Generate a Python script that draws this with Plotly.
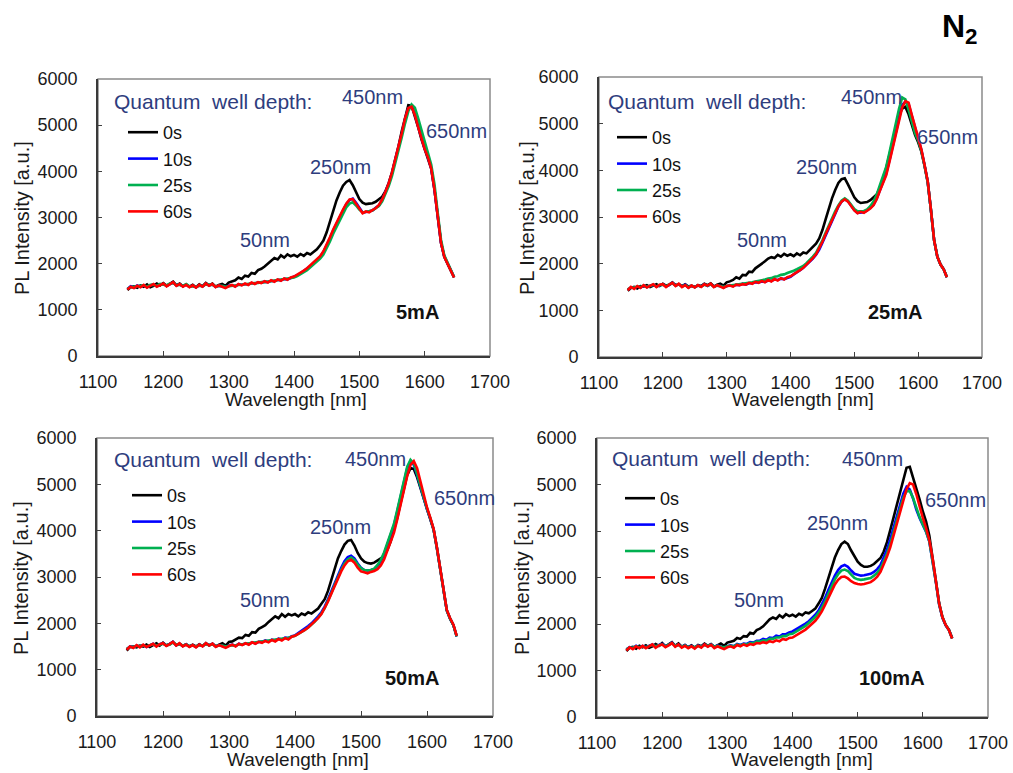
import plotly.graph_objects as go

W, H = 1013, 773
FONT = "Liberation Sans, Arial, sans-serif"
BLUE_TXT = "#2E3D7E"

# ---------------- data ----------------
wavelength = list(range(1145, 1650, 5))  # nm
series_names = ["0s", "10s", "25s", "60s"]
series_colors = ["#000000", "#0000FF", "#00B050", "#FF0000"]
currents = ["5mA", "25mA", "50mA", "100mA"]
peak_labels = ["50nm", "250nm", "450nm", "650nm"]
x_ticks = [1100, 1200, 1300, 1400, 1500, 1600, 1700]
y_ticks = [0, 1000, 2000, 3000, 4000, 5000, 6000]

# ---- 5 mA ----
p1_0s = [1430,1490,1510,1480,1530,1500,1550,1490,1520,1570,1530,
         1580,1520,1560,1610,1530,1570,1510,1550,1500,1540,
         1490,1550,1510,1580,1530,1570,1500,1540,1560,1520,
         1590,1610,1640,1700,1670,1740,1720,1800,1780,1860,
         1890,1940,2000,2070,2120,2090,2180,2130,2200,2160,
         2190,2150,2210,2170,2230,2200,2260,2310,2400,2500,
         2680,2920,3150,3370,3540,3690,3770,3810,3700,3530,
         3400,3320,3290,3300,3310,3340,3400,3450,3570,3750,
         3980,4250,4550,4870,5180,5430,5420,5200,4960,4700,
         4480,4300,4060,3600,3000,2450,2150,2000,1880,1700]
p1_10s = [1450,1510,1480,1530,1500,1530,1490,1530,1550,1510,1550,
          1560,1520,1560,1590,1530,1550,1510,1550,1500,1520,
          1490,1530,1510,1560,1530,1550,1500,1520,1510,1490,
          1520,1530,1510,1550,1540,1560,1550,1580,1570,1590,
          1590,1610,1600,1630,1620,1650,1640,1670,1660,1690,
          1710,1750,1790,1840,1890,1950,2010,2080,2150,2250,
          2390,2550,2720,2870,3010,3150,3290,3380,3410,3320,
          3200,3110,3120,3130,3150,3210,3260,3380,3550,3730,
          3960,4230,4520,4810,5130,5360,5410,5240,4980,4720,
          4490,4310,4070,3610,3010,2460,2160,2010,1890,1710]
p1_25s = [1460,1490,1500,1510,1520,1530,1500,1540,1540,1520,1560,
          1550,1530,1570,1580,1540,1540,1520,1560,1510,1510,
          1500,1520,1520,1550,1540,1540,1510,1510,1520,1500,
          1510,1520,1520,1540,1550,1550,1560,1570,1580,1580,
          1600,1600,1610,1620,1630,1640,1650,1660,1670,1680,
          1700,1730,1770,1810,1860,1920,1980,2040,2110,2200,
          2330,2480,2650,2800,2950,3090,3220,3300,3330,3260,
          3170,3110,3120,3130,3150,3200,3250,3350,3500,3680,
          3900,4160,4440,4740,5040,5300,5450,5380,5150,4880,
          4620,4400,4150,3720,3100,2520,2180,2020,1890,1710]
p1_60s = [1440,1500,1470,1520,1490,1540,1480,1520,1560,1500,1540,
          1570,1510,1550,1600,1520,1560,1500,1540,1490,1530,
          1480,1540,1500,1570,1520,1560,1490,1530,1500,1470,
          1510,1540,1500,1560,1530,1570,1540,1590,1560,1600,
          1580,1620,1590,1640,1610,1660,1630,1680,1650,1700,
          1720,1760,1800,1850,1900,1960,2020,2090,2160,2270,
          2410,2570,2740,2890,3030,3170,3300,3390,3400,3300,
          3180,3090,3130,3110,3160,3200,3270,3390,3560,3740,
          3980,4250,4540,4830,5150,5370,5400,5220,4960,4700,
          4480,4300,4060,3600,3000,2450,2150,2000,1880,1700]

# ---- 25 mA ----
p2_0s = [1420,1480,1500,1470,1520,1510,1540,1500,1530,1560,1520,
         1570,1530,1550,1600,1540,1560,1520,1560,1510,1530,
         1500,1540,1520,1570,1540,1580,1510,1550,1570,1530,
         1600,1620,1650,1710,1680,1760,1750,1830,1820,1900,
         1950,1990,2050,2110,2140,2120,2190,2150,2210,2170,
         2200,2160,2220,2180,2240,2220,2290,2340,2430,2540,
         2720,2950,3180,3400,3580,3730,3810,3830,3700,3540,
         3420,3340,3300,3310,3320,3360,3420,3480,3620,3800,
         4050,4320,4620,4920,5180,5320,5360,5200,4980,4760,
         4600,4400,4100,3750,3150,2500,2150,1980,1880,1710]
p2_10s = [1440,1490,1480,1510,1490,1530,1500,1520,1550,1510,1540,
          1560,1510,1540,1590,1530,1560,1510,1550,1490,1520,
          1500,1530,1510,1560,1520,1560,1510,1530,1520,1490,
          1510,1540,1520,1550,1540,1570,1550,1580,1580,1600,
          1600,1620,1610,1640,1630,1660,1650,1680,1670,1700,
          1720,1770,1810,1860,1910,1970,2040,2110,2190,2300,
          2450,2610,2780,2930,3080,3220,3330,3380,3340,3240,
          3150,3090,3100,3100,3140,3190,3260,3390,3570,3740,
          3930,4210,4520,4840,5150,5400,5470,5420,5170,4920,
          4680,4440,4110,3750,3150,2500,2150,1980,1880,1710]
p2_25s = [1450,1490,1490,1510,1500,1530,1500,1520,1550,1510,1540,
          1550,1520,1550,1580,1530,1560,1510,1540,1500,1520,
          1500,1530,1510,1550,1530,1560,1510,1530,1520,1500,
          1520,1530,1530,1550,1550,1560,1570,1590,1600,1620,
          1630,1650,1660,1680,1690,1720,1730,1760,1770,1800,
          1820,1850,1880,1910,1950,2010,2070,2150,2230,2350,
          2500,2660,2820,2970,3120,3250,3350,3400,3350,3260,
          3170,3120,3130,3130,3160,3230,3330,3480,3680,3880,
          4080,4380,4700,5010,5320,5560,5520,5300,5020,4800,
          4640,4420,4100,3740,3150,2500,2150,1980,1880,1710]
p2_60s = [1430,1500,1460,1520,1480,1540,1490,1530,1560,1500,1550,
          1560,1500,1550,1590,1520,1570,1500,1540,1480,1530,
          1490,1540,1500,1560,1530,1570,1500,1540,1510,1480,
          1520,1530,1510,1550,1540,1560,1550,1590,1570,1610,
          1590,1630,1600,1650,1620,1670,1640,1690,1660,1710,
          1730,1780,1820,1860,1910,1980,2040,2120,2200,2320,
          2470,2630,2790,2940,3090,3230,3330,3380,3330,3230,
          3140,3080,3110,3090,3130,3180,3250,3380,3560,3720,
          3900,4180,4490,4800,5100,5350,5480,5450,5190,4930,
          4690,4450,4120,3760,3160,2500,2150,1980,1880,1710]

# ---- 50 mA ----
p3_0s = [1410,1490,1500,1480,1520,1500,1540,1490,1530,1570,1520,
         1580,1520,1550,1600,1530,1560,1510,1550,1500,1540,
         1500,1550,1510,1570,1520,1560,1500,1540,1570,1520,
         1600,1610,1650,1690,1680,1750,1730,1810,1800,1880,
         1920,1960,2030,2100,2150,2110,2200,2140,2200,2170,
         2200,2150,2210,2180,2240,2210,2270,2320,2420,2520,
         2700,2950,3180,3400,3560,3700,3780,3800,3680,3520,
         3400,3330,3300,3290,3310,3350,3400,3460,3590,3770,
         4000,4280,4600,4920,5200,5350,5330,5150,4920,4680,
         4450,4250,4020,3620,3150,2650,2280,2100,1960,1720]
p3_10s = [1440,1500,1480,1520,1500,1530,1490,1530,1560,1510,1550,
          1570,1520,1550,1600,1530,1560,1510,1550,1500,1530,
          1490,1540,1510,1560,1530,1560,1500,1530,1510,1490,
          1520,1540,1510,1560,1540,1570,1550,1590,1570,1600,
          1600,1630,1610,1650,1630,1670,1650,1690,1680,1720,
          1740,1790,1830,1880,1940,2000,2070,2150,2240,2360,
          2520,2700,2880,3050,3200,3340,3430,3460,3400,3290,
          3200,3150,3140,3150,3170,3240,3340,3500,3700,3900,
          4120,4420,4740,5060,5350,5500,5420,5200,4940,4700,
          4460,4260,4030,3630,3150,2650,2280,2100,1960,1720]
p3_25s = [1450,1490,1490,1510,1510,1520,1500,1520,1550,1520,1540,
          1560,1530,1540,1590,1540,1550,1520,1540,1510,1520,
          1500,1530,1520,1550,1530,1550,1510,1520,1520,1500,
          1520,1530,1520,1550,1550,1560,1560,1580,1580,1590,
          1610,1620,1620,1640,1640,1660,1660,1680,1690,1710,
          1730,1770,1810,1860,1910,1970,2040,2120,2210,2330,
          2480,2650,2830,3000,3150,3290,3380,3420,3370,3270,
          3190,3150,3140,3150,3180,3260,3370,3530,3730,3930,
          4150,4450,4770,5100,5380,5530,5450,5220,4960,4710,
          4470,4270,4030,3630,3150,2650,2280,2100,1960,1720]
p3_60s = [1430,1500,1470,1530,1480,1540,1490,1520,1560,1500,1550,
          1570,1510,1550,1600,1520,1570,1500,1540,1490,1530,
          1480,1540,1500,1570,1520,1560,1490,1530,1500,1470,
          1510,1540,1500,1560,1530,1570,1540,1590,1560,1600,
          1580,1620,1590,1640,1610,1660,1630,1680,1650,1710,
          1730,1770,1810,1860,1910,1970,2040,2110,2200,2320,
          2470,2640,2810,2970,3120,3250,3340,3370,3310,3200,
          3120,3100,3080,3110,3130,3170,3250,3380,3560,3750,
          3960,4250,4560,4880,5180,5420,5500,5350,5050,4760,
          4500,4280,4040,3640,3160,2660,2290,2110,1970,1730]

# ---- 100 mA ----
p4_0s = [1420,1490,1510,1470,1530,1500,1540,1490,1520,1570,1530,
         1590,1520,1560,1610,1530,1580,1510,1550,1500,1540,
         1490,1550,1520,1580,1530,1570,1510,1540,1580,1530,
         1600,1620,1640,1700,1680,1740,1730,1810,1790,1870,
         1900,1950,2020,2100,2140,2110,2190,2140,2210,2170,
         2200,2160,2220,2190,2250,2230,2280,2330,2440,2560,
         2760,3000,3230,3430,3590,3720,3770,3720,3580,3450,
         3340,3270,3230,3230,3250,3290,3350,3420,3560,3760,
         4020,4280,4560,4800,5100,5360,5380,5160,4900,4680,
         4420,4200,3900,3450,2950,2450,2150,1980,1880,1700]
p4_10s = [1450,1500,1480,1530,1490,1530,1500,1530,1560,1510,1550,
          1570,1520,1550,1600,1530,1560,1510,1550,1500,1530,
          1490,1540,1510,1560,1520,1560,1500,1540,1510,1490,
          1520,1540,1520,1570,1550,1580,1570,1610,1600,1640,
          1640,1680,1660,1710,1700,1750,1730,1780,1780,1820,
          1840,1880,1920,1960,2010,2060,2120,2200,2290,2410,
          2560,2730,2890,3040,3160,3240,3270,3230,3150,3080,
          3060,3040,3050,3060,3080,3120,3180,3270,3420,3600,
          3820,4060,4310,4570,4800,4950,4890,4700,4460,4280,
          4120,3980,3770,3380,2900,2420,2140,1970,1870,1690]
p4_25s = [1460,1490,1490,1520,1500,1520,1500,1520,1550,1520,1540,
          1560,1520,1550,1590,1530,1550,1510,1540,1500,1520,
          1500,1530,1510,1550,1530,1550,1510,1530,1510,1500,
          1520,1530,1520,1560,1540,1570,1560,1590,1590,1620,
          1620,1650,1640,1680,1680,1710,1710,1740,1740,1780,
          1790,1830,1870,1920,1960,2020,2080,2150,2240,2350,
          2490,2660,2820,2960,3070,3150,3170,3140,3060,2990,
          2960,2950,2960,2970,2990,3040,3100,3190,3340,3510,
          3720,3960,4220,4480,4720,4850,4860,4710,4490,4300,
          4140,3990,3780,3390,2910,2430,2150,1980,1870,1690]
p4_60s = [1430,1500,1460,1520,1480,1530,1480,1520,1560,1490,1540,
          1560,1500,1540,1590,1510,1560,1490,1530,1480,1520,
          1470,1530,1490,1560,1510,1550,1480,1520,1490,1460,
          1500,1520,1490,1550,1520,1560,1530,1570,1550,1590,
          1580,1610,1590,1630,1610,1650,1630,1680,1660,1700,
          1710,1750,1790,1830,1880,1940,2000,2070,2160,2270,
          2410,2570,2720,2850,2950,3010,3020,2980,2920,2880,
          2860,2850,2860,2880,2900,2950,3020,3120,3270,3450,
          3650,3900,4160,4430,4690,4900,5030,5000,4790,4520,
          4280,4060,3800,3410,2920,2440,2150,1980,1870,1690]

panels = [
    [p1_0s, p1_10s, p1_25s, p1_60s],
    [p2_0s, p2_10s, p2_25s, p2_60s],
    [p3_0s, p3_10s, p3_25s, p3_60s],
    [p4_0s, p4_10s, p4_25s, p4_60s],
]

# ---------------- layout (pixel boxes) ----------------
boxes = [  # left, top, right, bottom in px
    (98, 79, 490, 356),
    (599, 77, 982, 357),
    (97, 438, 493, 716),
    (597, 438, 988, 717),
]
legend_px = [(123, 114), (612, 119), (127, 477), (620, 480)]
quantum_px = [(112, 102), (606, 102), (112, 459), (610, 458)]
peak_px = [
    [(265, 240), (340, 167), (372, 97), (456, 131)],
    [(762, 240), (826, 167), (871, 97), (947, 137)],
    [(265, 600), (340, 527), (375, 459), (464, 498)],
    [(759, 600), (837, 523), (872, 459), (955, 500)],
]
current_px = [(417, 312), (895, 312), (412, 678), (892, 678)]
xtitle_px = [(296, 399), (803, 399), (298, 759), (802, 759)]
ytitle_px = [(22, 218), (527, 218), (21, 578), (522, 578)]


def px(x):
    return x / W


def py(y):
    return 1 - y / H


fig = go.Figure()
layout = dict(
    width=W, height=H, margin=dict(l=0, r=0, t=0, b=0, pad=0, autoexpand=False),
    paper_bgcolor="white", plot_bgcolor="white",
    showlegend=True, annotations=[], shapes=[],
    font=dict(family=FONT, color="#1a1a1a"),
)

for k in range(4):
    sfx = "" if k == 0 else str(k + 1)
    leg = "legend" if k == 0 else f"legend{k + 1}"
    for s in range(4):
        fig.add_trace(go.Scatter(
            x=wavelength, y=panels[k][s], mode="lines", name=series_names[s],
            line=dict(color=series_colors[s], width=2.6),
            xaxis="x" + sfx, yaxis="y" + sfx, legend=leg, showlegend=True,
        ))
    l, t, r, b = boxes[k]
    tickfont = dict(family=FONT, size=18, color="#1a1a1a")
    layout["xaxis" + sfx] = dict(
        domain=[px(l), px(r)], range=[1100, 1700], tickvals=x_ticks,
        ticks="inside", ticklen=5, tickwidth=1.2, tickcolor="#404040",
        showline=True, linecolor="#3a3a3a", linewidth=1.8,
        showgrid=False, zeroline=False, tickfont=tickfont, automargin=False,
        anchor="y" + sfx, ticklabelstandoff=8, fixedrange=True,
    )
    layout["yaxis" + sfx] = dict(
        domain=[py(b), py(t)], range=[0, 6000], tickvals=y_ticks,
        ticks="inside", ticklen=4, tickwidth=1.2, tickcolor="#404040",
        showline=True, linecolor="#3a3a3a", linewidth=1.8,
        showgrid=False, zeroline=False, tickfont=tickfont, automargin=False,
        anchor="x" + sfx, ticklabelstandoff=15, fixedrange=True,
    )
    layout["shapes"].append(dict(
        type="rect", xref=f"x{sfx} domain", yref=f"y{sfx} domain",
        x0=0, x1=1, y0=0, y1=1, line=dict(color="#8a8a8a", width=1.5),
        layer="below",
    ))
    lx, ly = legend_px[k]
    layout[leg] = dict(
        x=px(lx), y=py(ly), xanchor="left", yanchor="top",
        bgcolor="rgba(0,0,0,0)", borderwidth=0, itemwidth=30,
        tracegroupgap=0, traceorder="normal",
        font=dict(family=FONT, size=18, color="#111111"),
    )
    ann = layout["annotations"]
    qx, qy = quantum_px[k]
    ann.append(dict(text="Quantum\u00a0 well depth:", x=px(qx), y=py(qy),
                    xref="paper", yref="paper", xanchor="left", yanchor="middle",
                    showarrow=False, font=dict(family=FONT, size=21, color=BLUE_TXT)))
    for lab, (ax_, ay_) in zip(peak_labels, peak_px[k]):
        ann.append(dict(text=lab, x=px(ax_), y=py(ay_), xref="paper", yref="paper",
                        xanchor="center", yanchor="middle", showarrow=False,
                        font=dict(family=FONT, size=20, color=BLUE_TXT)))
    cx, cy = current_px[k]
    ann.append(dict(text="<b>" + currents[k] + "</b>", x=px(cx), y=py(cy),
                    xref="paper", yref="paper", xanchor="center", yanchor="middle",
                    showarrow=False, font=dict(family=FONT, size=20, color="#111111")))
    tx, ty = xtitle_px[k]
    ann.append(dict(text="Wavelength [nm]", x=px(tx), y=py(ty), xref="paper", yref="paper",
                    xanchor="center", yanchor="middle", showarrow=False,
                    font=dict(family=FONT, size=19, color="#1a1a1a")))
    vx, vy = ytitle_px[k]
    ann.append(dict(text="PL Intensity [a.u.]", x=px(vx), y=py(vy), xref="paper", yref="paper",
                    xanchor="center", yanchor="middle", textangle=-90, showarrow=False,
                    font=dict(family=FONT, size=20, color="#1a1a1a")))

layout["annotations"].append(dict(
    text="<b>N<sub>2</sub></b>", x=px(940), y=py(28), xref="paper", yref="paper",
    xanchor="left", yanchor="middle", showarrow=False,
    font=dict(family=FONT, size=32, color="#000000")))

fig.update_layout(**layout)
fig.write_html("out.html", config={"displayModeBar": False})
